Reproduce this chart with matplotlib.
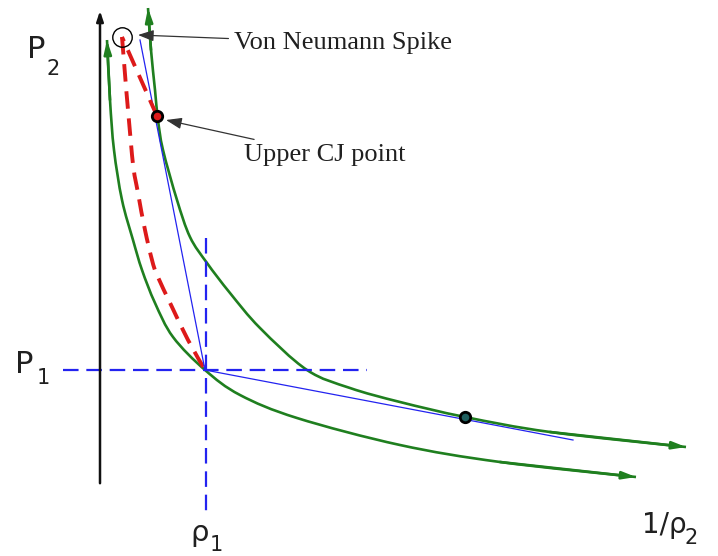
import matplotlib
matplotlib.use("Agg")
import matplotlib.pyplot as plt
from matplotlib.path import Path
from matplotlib.patches import PathPatch

# points, in pixel units (x right, y down)
hug_low_x = [107, 110, 114, 122, 133, 142, 155, 173, 205, 240, 297, 400, 500, 636]
hug_low_y = [40, 100, 150, 200, 240, 270, 303, 337, 370, 395, 418, 445, 462, 477]
hug_up_x = [148, 151, 155, 158, 163, 177, 190, 207, 230, 260, 307, 350, 400, 465, 550, 686]
hug_up_y = [8, 50, 90, 120, 150, 200, 237, 263, 293, 328, 370, 388, 402, 417, 432, 447]
znd_x = [157, 122, 132, 138, 145, 152, 157, 172, 188, 205]
znd_y = [116, 37, 155, 193, 230, 260, 275, 307, 340, 370]
ray_up_x = [205, 140]
ray_up_y = [370, 40]
ray_low_x = [205, 573]
ray_low_y = [370, 440]
p1_line_x = [63, 367]
p1_line_y = [370, 370]
rho1_line_x = [206, 206]
rho1_line_y = [238, 512]
spike = (122, 37)
cj_up = (157, 116)
cj_low = (465, 417)

GREEN = "#1f7f1f"
BLUE = "#2323f0"
RED = "#dd1a1a"
TXT = "#202020"


def smooth_path(xs, ys, start=0):
    # catmull-rom through the read points, drawn as cubic bezier pieces
    pts = list(zip(xs, ys))[start:]
    verts = [pts[0]]
    codes = [Path.MOVETO]
    for i in range(len(pts) - 1):
        p0 = pts[i - 1] if i > 0 else pts[i]
        p1, p2 = pts[i], pts[i + 1]
        p3 = pts[i + 2] if i + 2 < len(pts) else pts[i + 1]
        c1 = (p1[0] + (p2[0] - p0[0]) / 6, p1[1] + (p2[1] - p0[1]) / 6)
        c2 = (p2[0] - (p3[0] - p1[0]) / 6, p2[1] - (p3[1] - p1[1]) / 6)
        verts += [c1, c2, p2]
        codes += [Path.CURVE4] * 3
    return Path(verts, codes)


fig = plt.figure(figsize=(7.18, 5.56), dpi=100)
ax = fig.add_axes([0, 0, 1, 1])
ax.set_xlim(0, 718)
ax.set_ylim(556, 0)
ax.axis("off")

# axes arrows
ax.annotate("", xy=(100, 8), xytext=(100, 486),
            arrowprops=dict(arrowstyle="-|>,head_length=0.6,head_width=0.2", color="#111111", lw=1.8))
ax.annotate("", xy=(722, 485), xytext=(99, 485),
            arrowprops=dict(arrowstyle="-|>,head_length=0.6,head_width=0.2", color="#111111", lw=1.8))

# dashed reference lines
ax.plot(p1_line_x, p1_line_y, color=BLUE, lw=1.6, dashes=(7, 3.5))
ax.plot(rho1_line_x, rho1_line_y, color=BLUE, lw=1.6, dashes=(7, 3.5))

# Rayleigh lines
ax.plot(ray_up_x, ray_up_y, color=BLUE, lw=0.9)
ax.plot(ray_low_x, ray_low_y, color=BLUE, lw=0.9)

# Hugoniot curves with arrow heads at both ends
for xs, ys in [(hug_low_x, hug_low_y), (hug_up_x, hug_up_y)]:
    ax.add_patch(PathPatch(smooth_path(xs, ys), fill=False, edgecolor=GREEN, lw=1.9))
    ax.annotate("", xy=(xs[0], ys[0]), xytext=(xs[1], ys[1]),
                arrowprops=dict(arrowstyle="-|>,head_length=0.8,head_width=0.22", color=GREEN, lw=1.9, shrinkA=0, shrinkB=0))
    ax.annotate("", xy=(xs[-1], ys[-1]), xytext=(xs[-2], ys[-2]),
                arrowprops=dict(arrowstyle="-|>,head_length=0.8,head_width=0.22", color=GREEN, lw=1.9, shrinkA=0, shrinkB=0))

# ZND path: straight up to the spike, then smooth down to state 1
ax.plot(znd_x[:2], znd_y[:2], color=RED, lw=2.8, dashes=(4.5, 2.5))
ax.add_patch(PathPatch(smooth_path(znd_x, znd_y, start=1), fill=False, edgecolor=RED,
                       lw=2.8, linestyle=(0, (4.5, 2.5))))

# points
ax.plot(*spike, marker="o", ms=14, mfc="none", mec="black", mew=1.0)
ax.plot(*cj_up, marker="o", ms=7.5, mfc=RED, mec="black", mew=2)
ax.plot(*cj_low, marker="o", ms=7.5, mfc="#1f5f5f", mec="black", mew=2)

# annotations
ax.annotate("Von Neumann Spike", xy=(138, 35), xytext=(234, 43),
            fontsize=19, family="Liberation Serif", color=TXT, va="center", ha="left",
            arrowprops=dict(arrowstyle="-|>,head_length=0.5,head_width=0.18", color="#333333", lw=0.9,
                            shrinkA=2, shrinkB=0))
ax.annotate("Upper CJ point", xy=(166, 120), xytext=(244, 155),
            fontsize=19, family="Liberation Serif", color=TXT, va="center", ha="left",
            arrowprops=dict(arrowstyle="-|>,head_length=0.5,head_width=0.18", color="#333333", lw=0.9,
                            shrinkA=6, shrinkB=0))

# axis labels: main letter plus a lowered subscript
ax.text(27, 58, "P", fontsize=22, color=TXT, ha="left", va="baseline")
ax.text(47, 75, "2", fontsize=15, color=TXT, ha="left", va="baseline")
ax.text(15, 373, "P", fontsize=22, color=TXT, ha="left", va="baseline")
ax.text(37, 384, "1", fontsize=15, color=TXT, ha="left", va="baseline")
ax.text(190, 541, "ρ", fontsize=21, color=TXT, ha="left", va="baseline")
ax.text(210, 551, "1", fontsize=15, color=TXT, ha="left", va="baseline")
ax.text(642, 533, "1/ρ", fontsize=20, color=TXT, ha="left", va="baseline")
ax.text(685, 544, "2", fontsize=15, color=TXT, ha="left", va="baseline")

fig.savefig("out.png", dpi=100)
